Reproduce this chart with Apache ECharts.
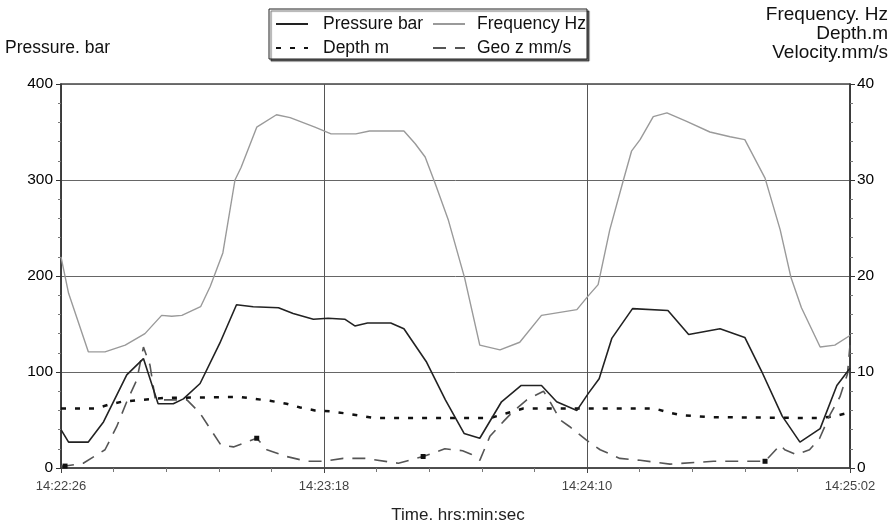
<!DOCTYPE html>
<html><head><meta charset="utf-8">
<script src="https://cdn.jsdelivr.net/npm/echarts@6/dist/echarts.min.js"></script>
<style>html,body{margin:0;padding:0;background:#fff}#c{width:892px;height:527px}</style>
</head><body><div id="c"></div>
<script>
// ---- data (time in seconds from 14:22:26) ----
const xTickLabels = ['14:22:26','14:23:18','14:24:10','14:25:02'];
const leftTicks = [0,100,200,300,400];
const rightTicks = [0,10,20,30,40];

const pressureT = [0,1.5,5.4,8.4,13.0,16.3,19.2,22.2,24.2,27.5,31.4,34.7,38.0,43.0,45.9,49.9,52.8,56.1,58.1,60.6,65.2,67.8,72.2,76.0,79.7,82.8,87.1,91.0,95.0,98.0,102.0,104.3,106.4,108.9,113.0,120.0,124.1,130.3,135.2,138.5,142.6,146.1,150.1,153.4,156];
const pressure  = [40,27,27,48,97,114,67,67,72,88,130,170,168,167,161,155,156,155,148,151,151,145,111,71,36,31,69,86,86,69,60,78,93,135,166,164,139,145,136,101,54,27,41,86,104];

const freqT = [0,1.5,5.4,8.7,12.7,16.6,19.9,21.9,23.9,27.6,29.5,32.0,34.4,35.6,38.7,42.6,45.3,50.2,53.4,58.3,61.0,67.8,70.0,72.0,74.0,76.6,79.8,82.8,86.8,90.7,95.0,102.0,104.2,106.2,108.5,111.2,112.8,114.5,117.1,119.8,123.7,128.3,132.3,135.2,139.2,142.2,144.3,146.4,150.1,153.0,156];
const freq  = [22,18.2,12.1,12.1,12.8,14.0,15.9,15.8,15.9,16.8,18.9,22.4,30.0,31.3,35.5,36.8,36.5,35.5,34.8,34.8,35.1,35.1,33.8,32.4,29.6,25.8,19.8,12.8,12.3,13.1,15.9,16.5,17.9,19.1,24.8,30.0,33.0,34.2,36.6,37.0,36.1,35.0,34.5,34.2,30.2,24.8,19.9,16.7,12.6,12.8,13.8];

const depthT = [0,7,9.4,12,16,20.6,35.4,41.3,44.6,47.3,50.2,53.2,56.1,62,84.8,88.1,91.4,117.4,120,122.7,128,150,153,156];
const depth  = [6.2,6.2,6.6,6.9,7.1,7.3,7.4,7.0,6.7,6.3,6.0,5.9,5.7,5.2,5.2,5.7,6.2,6.2,5.8,5.5,5.3,5.2,5.4,5.8];

const geoT = [0,0.8,4.4,8.7,11.0,13.0,15.0,16.3,17.6,18.6,19.6,24.9,27.5,30.1,31.6,34.1,38.7,40.7,44.6,48.6,51.9,55.8,60.1,66.7,71.6,75.9,79.4,81.2,82.8,84.8,87.4,89.4,92.1,95.4,96.7,98.7,100.6,103.9,106.6,110.5,114.5,120.4,129,139.2,142.2,143.1,145.4,148.0,150.0,152.0,154.0,155.5,156];
const geo  = [0.2,0.2,0.5,1.9,4.3,6.9,9.2,12.6,10.7,7.3,7.1,7.1,5.7,3.6,2.4,2.2,3.1,1.9,1.2,0.7,0.7,1.0,1.0,0.5,1.2,2.0,1.8,1.4,0.8,3.3,4.8,5.9,7.1,8.0,6.9,5.0,4.3,2.9,1.9,1.0,0.8,0.4,0.7,0.7,2.4,1.9,1.4,1.9,3.1,5.5,7.4,9.8,12.8];
const geoMarkAt = [1,16,24,43];

// ---- build ----
function pairs(t, v){ return t.map((x,i)=>[x, v[i]]); }
const FONT = "'Liberation Sans',Arial,sans-serif";
const chart = echarts.init(document.getElementById('c'), null, {renderer:'canvas'});

const geoData = pairs(geoT, geo).map((p,i)=> geoMarkAt.indexOf(i) >= 0
  ? {value:p, symbol:'rect', symbolSize:5, itemStyle:{color:'#111'}} : {value:p});

function leg(name, left, top, pad){
  return {data:[name], left:left, top:top, padding:0, itemWidth:32, itemHeight:12,
    selectedMode:false, itemStyle:{opacity:0},
    textStyle:{fontFamily:FONT, fontSize:17.5, color:'#111', padding:[0,0,0,pad]}};
}

const axisLabelStyle = {fontFamily:FONT, fontSize:15.5, color:'#000'};

const option = {
  animation:false,
  grid:{left:61, right:42, top:84, bottom:59, show:true, borderColor:'#444', borderWidth:1.5, backgroundColor:'#fff'},
  xAxis:{type:'value', min:0, max:156, interval:52,
    axisLine:{lineStyle:{color:'#444', width:1.5}},
    axisTick:{length:5, lineStyle:{color:'#444'}},
    minorTick:{show:true, splitNumber:5, length:4, lineStyle:{color:'#777'}},
    splitLine:{show:true, lineStyle:{color:'#555', width:1}},
    axisLabel:{formatter:(v)=>xTickLabels[Math.round(v/52)], fontFamily:FONT, fontSize:13, color:'#444', margin:12}},
  yAxis:[
    {type:'value', min:0, max:400, interval:100, position:'left',
      axisLine:{show:true, lineStyle:{color:'#333', width:1.5}},
      axisTick:{show:true, length:5, lineStyle:{color:'#333'}},
      minorTick:{show:true, splitNumber:5, length:3, lineStyle:{color:'#777'}},
      splitLine:{show:true, lineStyle:{color:'#666', width:1}},
      axisLabel:Object.assign({margin:8, formatter:(v)=>String(leftTicks[Math.round(v/100)])}, axisLabelStyle)},
    {type:'value', min:0, max:40, interval:10, position:'right',
      axisLine:{show:true, lineStyle:{color:'#333', width:1.5}},
      axisTick:{show:true, length:5, lineStyle:{color:'#333'}},
      minorTick:{show:true, splitNumber:5, length:3, lineStyle:{color:'#777'}},
      splitLine:{show:false},
      axisLabel:Object.assign({margin:7, formatter:(v)=>String(rightTicks[Math.round(v/10)])}, axisLabelStyle)}
  ],
  legend:[
    leg('Pressure bar', 275, 15, 10),
    leg('Frequency Hz', 432, 15, 7),
    leg('Depth m', 275, 39, 10),
    leg('Geo z mm/s', 432, 39, 7)
  ],
  graphic:[
    {type:'rect', z:0, shape:{x:269, y:9, width:318, height:50},
      style:{fill:'#fff', stroke:'#222', lineWidth:1, shadowColor:'rgba(0,0,0,0.6)', shadowOffsetX:2, shadowOffsetY:2, shadowBlur:1}},
    {type:'text', style:{text:'Pressure. bar', x:5, y:48, fontFamily:FONT, fontSize:17.5, fill:'#111', textVerticalAlign:'middle'}},
    {type:'text', style:{text:'Frequency. Hz', x:888, y:15, fontFamily:FONT, fontSize:19, fill:'#111', textAlign:'right', textVerticalAlign:'middle'}},
    {type:'text', style:{text:'Depth.m', x:888, y:34, fontFamily:FONT, fontSize:19, fill:'#111', textAlign:'right', textVerticalAlign:'middle'}},
    {type:'text', style:{text:'Velocity.mm/s', x:888, y:53, fontFamily:FONT, fontSize:19, fill:'#111', textAlign:'right', textVerticalAlign:'middle'}},
    {type:'text', style:{text:'Time. hrs:min:sec', x:458, y:515, fontFamily:FONT, fontSize:17, fill:'#222', textAlign:'center', textVerticalAlign:'middle'}}
  ],
  series:[
    {name:'Pressure bar', type:'line', yAxisIndex:0, data:pairs(pressureT, pressure), symbol:'none',
      lineStyle:{color:'#222', width:1.6}, itemStyle:{color:'#222'}, z:4},
    {name:'Frequency Hz', type:'line', yAxisIndex:1, data:pairs(freqT, freq), symbol:'none',
      lineStyle:{color:'#9a9a9a', width:1.4}, itemStyle:{color:'#9a9a9a'}, z:3},
    {name:'Depth m', type:'line', yAxisIndex:1, data:pairs(depthT, depth), symbol:'none',
      lineStyle:{color:'#111', width:2.5, type:[5,9]}, itemStyle:{color:'#111'}, z:3},
    {name:'Geo z mm/s', type:'line', yAxisIndex:1, data:geoData, symbol:'none', showSymbol:true,
      lineStyle:{color:'#555', width:1.6, type:[13,9]}, itemStyle:{color:'#555'}, z:3}
  ]
};
chart.setOption(option);
</script>
</body></html>
